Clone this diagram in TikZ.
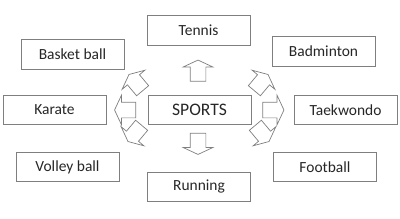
\documentclass[tikz,border=0pt]{standalone}
\usepackage{fontspec}
\setmainfont{Carlito}
\usepackage{tikz}
\usetikzlibrary{shapes.arrows, positioning}
\definecolor{boxline}{HTML}{7F7F7F}
\definecolor{boxtext}{HTML}{262626}
\tikzset{
      sportbox/.style   = {rectangle, draw=boxline, line width=0.5pt,
                           minimum width=2.575cm, minimum height=0.74cm,
                           font=\fontsize{11}{13}\selectfont, text=boxtext},
      hubbox/.style     = {sportbox, font=\fontsize{12.5}{14}\selectfont},
      blockarrow/.style = {single arrow, draw=boxline, line width=0.5pt,
                           inner xsep=0pt, inner ysep=0.1875cm,
                           minimum height=0.53cm, single arrow head extend=0.175cm,
                           single arrow tip angle=130}
    }
\begin{document}
\begin{tikzpicture}[x=0.025cm, y=-0.025cm]
  \useasboundingbox (0,0) rectangle (400,218);
  % centre box
  \node[hubbox] (sports) at (199.5,110) {SPORTS};
  % outer boxes
  \node[sportbox] (tennis)    at (198.5,30.5) {Tennis};
  \node[sportbox] (basket)    at (72.5,54.5)  {Basket ball};
  \node[sportbox] (badminton) at (323.5,51.5) {Badminton};
  \node[sportbox] (karate)    at (54.5,110)   {Karate};
  \node[sportbox] (taekwondo) at (345.5,110)  {Taekwondo};
  \node[sportbox] (volley)    at (67.5,167)   {Volley ball};
  \node[sportbox] (running)   at (199,187)    {Running};
  \node[sportbox] (football)  at (325,167)    {Football};
  % block arrows round the centre
  \node[blockarrow, rotate=90]  (aup)    at (198,72.5) {};
  \node[blockarrow, rotate=270] (adown)  at (198,142)  {};
  \node[blockarrow, rotate=0]   (aright) at (271.5,110) {};
  \node[blockarrow, rotate=180] (aleft)  at (127,110)  {};
  \node[blockarrow, rotate=50]  (aupr)   at (260,84)   {};
  \node[blockarrow, rotate=130] (aupl)   at (137,84)   {};
  \node[blockarrow, rotate=230] (adownl) at (136,132)  {};
  \node[blockarrow, rotate=310] (adownr) at (261,132)  {};
\end{tikzpicture}
\end{document}
